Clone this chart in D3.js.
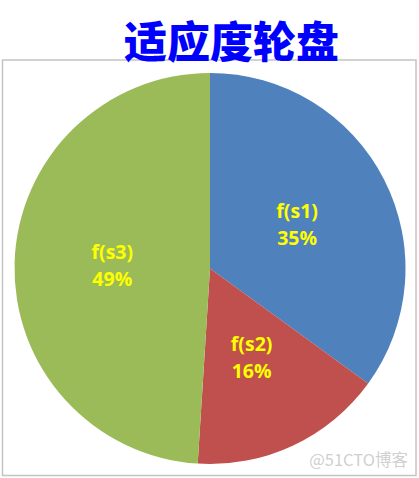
<!DOCTYPE html>
<html>
<head>
<meta charset="utf-8">
<script src="https://cdn.jsdelivr.net/npm/d3@7"></script>
<style>
  html, body { margin: 0; padding: 0; background: #fff; }
</style>
</head>
<body>
<div id="main"></div>
<script>
"use strict";

// data
const labels = ["f(s1)", "f(s2)", "f(s3)"];
const shares = [35, 16, 49];
const colors = ["#4F81BD", "#C0504D", "#9BBB59"];
const title = "适应度轮盘";

function main() {
    const width = 419, height = 478;
    const svg = d3.select("#main").append("svg")
        .attr("width", width)
        .attr("height", height);

    // chart frame
    svg.append("rect")
        .attr("x", 2.5).attr("y", 60)
        .attr("width", 413.5).attr("height", 415.5)
        .attr("fill", "none")
        .attr("stroke", "#c4c4c4")
        .attr("stroke-width", 1.5);

    const cx = 210, cy = 268.5, r = 195.5;
    const g = svg.append("g").attr("transform", `translate(${cx},${cy})`);

    const pie = d3.pie().sort(null).value(d => d.v);
    const data = pie(labels.map((l, i) => ({ name: l, v: shares[i], c: colors[i] })));
    const arc = d3.arc().innerRadius(0).outerRadius(r);
    const labelArc = d3.arc().innerRadius(r * 0.5).outerRadius(r * 0.5);

    g.selectAll("path")
        .data(data)
        .join("path")
        .attr("d", arc)
        .attr("fill", d => d.data.c);

    const lbl = g.selectAll("text.lbl")
        .data(data)
        .join("text")
        .attr("class", "lbl")
        .attr("transform", d => `translate(${labelArc.centroid(d)})`)
        .attr("text-anchor", "middle")
        .attr("fill", "#FFFF00")
        .style("font", "bold 19.5px 'Open Sans', 'Liberation Sans', sans-serif");
    lbl.append("tspan").attr("x", 0).attr("y", -6).text(d => d.data.name);
    lbl.append("tspan").attr("x", 0).attr("y", 21).text(d => d.data.v + "%");

    // title
    svg.append("text")
        .attr("x", 231.5).attr("y", 58)
        .attr("text-anchor", "middle")
        .attr("fill", "#0000FF")
        .style("font", "900 43px 'Noto Sans CJK SC', sans-serif")
        .text(title);

    // watermark
    svg.append("text")
        .attr("x", 408).attr("y", 466)
        .attr("text-anchor", "end")
        .attr("fill", "#d0d0d0")
        .style("font", "16.5px 'Noto Sans CJK SC', sans-serif")
        .text("@51CTO博客");
}

main();
</script>
</body>
</html>
